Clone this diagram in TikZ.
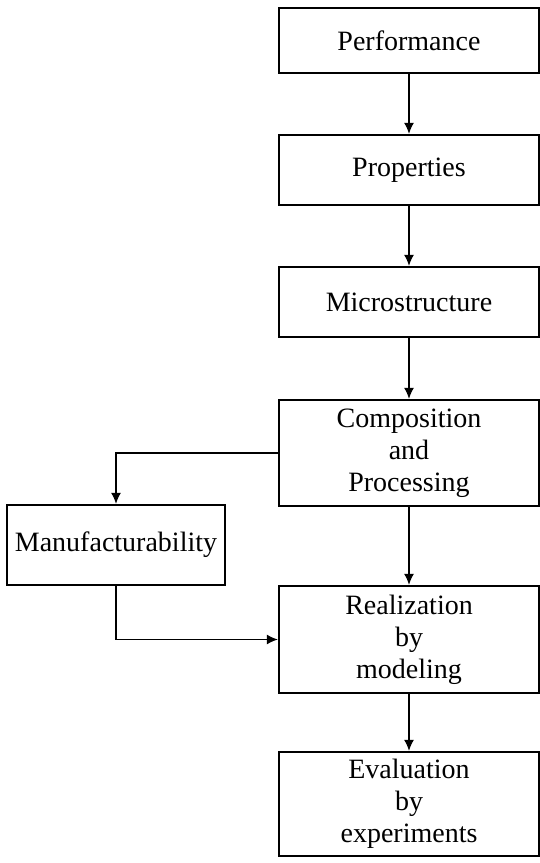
\documentclass[tikz,border=0pt]{standalone}
\usepackage{fontspec}
\setmainfont{Liberation Serif}
\usetikzlibrary{arrows.meta}

\begin{document}
\begin{tikzpicture}[x=0.5pt, y=-0.5pt,
    caixa/.style={draw=black, line width=1.2pt, align=center, inner sep=0pt,
                  font=\fontsize{14}{16}\selectfont},
    seta/.style={-{Latex[length=5.5pt,width=5pt]}, line width=0.6pt}]
    \useasboundingbox (0,0) rectangle (540,863);

    % Caixas da coluna principal
    \node[caixa, minimum width=130pt, minimum height=32.5pt] (perf)  at (409, 40.5) {Performance};
    \node[caixa, minimum width=130pt, minimum height=35pt]   (prop)  at (409,170)   {Properties};
    \node[caixa, minimum width=130pt, minimum height=35pt]   (micro) at (409,302)   {Microstructure};
    \node[caixa, minimum width=130pt, minimum height=53pt]   (comp)  at (409,453)   {Composition\\and\\Processing};
    \node[caixa, minimum width=130pt, minimum height=53.5pt] (real)  at (409,639.5) {Realization\\by\\modeling};
    \node[caixa, minimum width=130pt, minimum height=52pt]   (eval)  at (409,804)   {Evaluation\\by\\experiments};

    % Caixa lateral
    \node[caixa, minimum width=109pt, minimum height=40pt]   (manu)  at (116,545)   {Manufacturability};

    % Setas verticais
    \draw[seta] (perf)  -- (prop);
    \draw[seta] (prop)  -- (micro);
    \draw[seta] (micro) -- (comp);
    \draw[seta] (comp)  -- (real);
    \draw[seta] (real)  -- (eval);

    % Desvio pela caixa lateral
    \draw[seta] (comp.west) -| (manu.north);
    \draw[seta] (manu.south) |- (real.west);
  \end{tikzpicture}
\end{document}
